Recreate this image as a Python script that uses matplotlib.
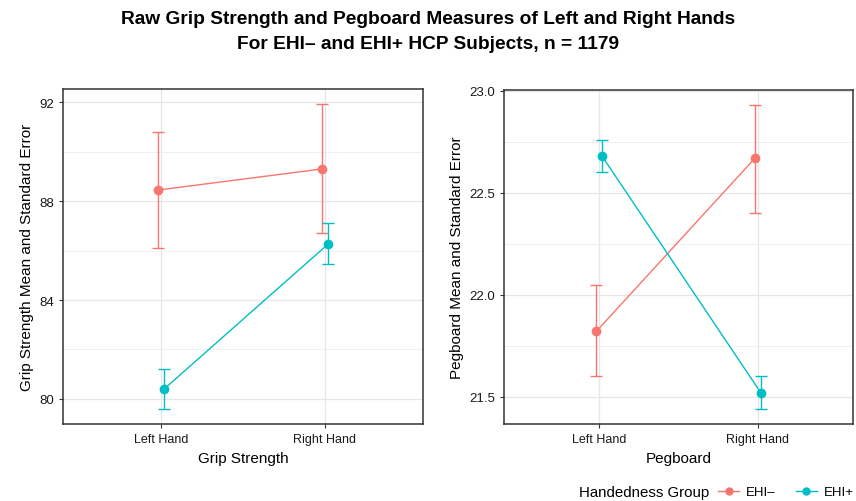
import numpy as np
import matplotlib
matplotlib.use("Agg")
import matplotlib.pyplot as plt
from matplotlib.lines import Line2D

plt.rcParams['font.family'] = ['Liberation Sans', 'DejaVu Sans']

hands = ['Left Hand', 'Right Hand']
groups = ['EHI\u2013', 'EHI+']
colors = ['#F8766D', '#00BFC4']

# grip strength: mean, lower, upper per group (left hand, right hand)
grip_mean = {'EHI\u2013': [88.45, 89.30], 'EHI+': [80.40, 86.25]}
grip_lo = {'EHI\u2013': [86.10, 86.70], 'EHI+': [79.60, 85.45]}
grip_hi = {'EHI\u2013': [90.80, 91.92], 'EHI+': [81.20, 87.10]}

# pegboard
peg_mean = {'EHI\u2013': [21.82, 22.67], 'EHI+': [22.68, 21.52]}
peg_lo = {'EHI\u2013': [21.60, 22.40], 'EHI+': [22.60, 21.44]}
peg_hi = {'EHI\u2013': [22.05, 22.93], 'EHI+': [22.76, 21.60]}

fig = plt.figure(figsize=(8.56, 5.02), dpi=100)
ax1 = fig.add_axes([63/856, 1-425/502, 360/856, 335/502])
ax2 = fig.add_axes([504/856, 1-425/502, 349/856, 334/502])

def panel(ax, mean, lo, hi, major, minor, fmt, xlabel, ylabel):
    x = np.arange(1, len(hands)+1)
    offs = [-0.018, 0.018]
    for g, c, o in zip(groups, colors, offs):
        m = np.array(mean[g]); l = np.array(lo[g]); h = np.array(hi[g])
        ax.errorbar(x+o, m, yerr=[m-l, h-m], color=c, lw=1.0, capsize=4,
                    capthick=1.0, elinewidth=1.0, marker='o', ms=6, zorder=3)
    ax.set_xlim(0.4, 2.6)
    ymin = min(min(v) for v in lo.values()); ymax = max(max(v) for v in hi.values())
    pad = (ymax - ymin)*0.05
    ax.set_ylim(ymin-pad, ymax+pad)
    ax.set_xticks(x)
    ax.set_xticklabels(hands, fontsize=9)
    ax.set_yticks(major)
    ax.set_yticklabels([fmt.format(v) for v in major], fontsize=9.5)
    ax.set_yticks(minor, minor=True)
    ax.tick_params(which='minor', length=0)
    ax.tick_params(which='major', length=3, color='#333333', labelcolor='#1a1a1a')
    ax.grid(True, which='major', color='#e6e6e6', lw=0.9, zorder=0)
    ax.grid(True, which='minor', axis='y', color='#ececec', lw=0.6, zorder=0)
    ax.set_axisbelow(True)
    for s in ax.spines.values():
        s.set_color('#333333'); s.set_linewidth(1.1)
    ax.set_xlabel(xlabel, fontsize=11, labelpad=4)
    ax.set_ylabel(ylabel, fontsize=11, labelpad=4)

panel(ax1, grip_mean, grip_lo, grip_hi, [80, 84, 88, 92], [82, 86, 90], '{:.0f}',
      'Grip Strength', 'Grip Strength Mean and Standard Error')
panel(ax2, peg_mean, peg_lo, peg_hi, [21.5, 22.0, 22.5, 23.0], [21.75, 22.25, 22.75], '{:.1f}',
      'Pegboard', 'Pegboard Mean and Standard Error')

fig.text(0.5, 1-32/502, 'Raw Grip Strength and Pegboard Measures of Left and Right Hands\n'
         'For EHI\u2013 and EHI+ HCP Subjects, n = 1179',
         ha='center', va='center', fontsize=13.8, fontweight='bold', linespacing=1.65)

fig.text(579/856, 1-493/502, 'Handedness Group', ha='left', va='center', fontsize=10.8)
handles = [Line2D([], [], color=c, marker='o', ms=5, lw=1.0) for c in colors]
fig.legend(handles, groups, loc='center left', bbox_to_anchor=(718/856, 1-493/502),
           ncol=2, frameon=False, fontsize=9.5, handlelength=1.6, handletextpad=0.55,
           columnspacing=1.5, borderpad=0, borderaxespad=0)

fig.savefig('out.png', dpi=100)
